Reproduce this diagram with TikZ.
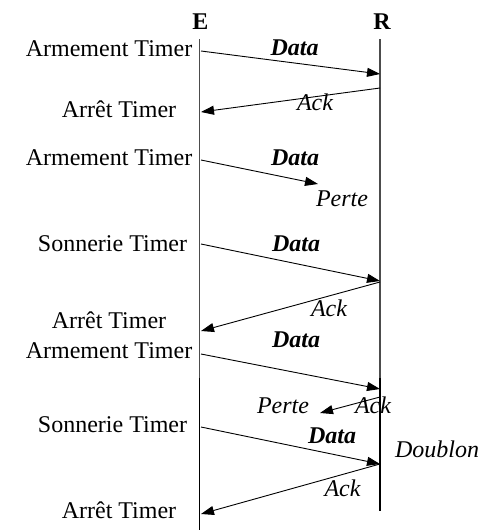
\documentclass[tikz,border=0pt]{standalone}
\usepackage{fontspec}
\setmainfont{Liberation Serif}
\usetikzlibrary{arrows.meta}
\begin{document}
\begin{tikzpicture}[x=1pt,y=-1pt,
  lbl/.style={anchor=base,inner sep=0pt,font=\fontsize{24}{26}\selectfont},
  msg/.style={lbl,font=\fontsize{24}{26}\selectfont\bfseries\itshape},
  note/.style={lbl,font=\fontsize{24}{26}\selectfont\itshape},
  head/.style={lbl,font=\fontsize{24}{26}\selectfont\bfseries},
  lifeup/.style={draw=black!70,line width=1.3pt},
  lifedown/.style={draw=black,line width=1.6pt},
  arr/.style={draw=black,line width=0.9pt,-{Triangle[length=13pt,width=9pt]}}]
\useasboundingbox (0,0) rectangle (482,530);
% headers
\node[head] (E) at (200.5,29) {E};
\node[head] (R) at (382,29) {R};
% lifelines
\coordinate (Et) at (199.5,39);
\coordinate (Em) at (199.5,378);
\coordinate (Eb) at (199.5,530);
\coordinate (Rt) at (380,39);
\coordinate (Rm) at (380,378);
\coordinate (Rb) at (380,511);
\draw[lifeup] (Et) -- (Em);
\draw[lifedown] (Em) -- (Eb);
\draw[lifeup] (Rt) -- (Rm);
\draw[lifedown] (Rm) -- (Rb);
% left labels
\node[lbl] (a1) at (109,56) {Armement Timer};
\node[lbl] (s1) at (119,117) {Arrêt Timer};
\node[lbl] (a2) at (109,165) {Armement Timer};
\node[lbl] (t1) at (112.5,251) {Sonnerie Timer};
\node[lbl] (s2) at (109,328) {Arrêt Timer};
\node[lbl] (a3) at (109,358) {Armement Timer};
\node[lbl] (t2) at (112.5,432) {Sonnerie Timer};
\node[lbl] (s3) at (119,518) {Arrêt Timer};
% message labels
\node[msg] (d1) at (294.5,55) {Data};
\node[note] (k1) at (315,110) {Ack};
\node[msg] (d2) at (295,165) {Data};
\node[note] (p1) at (342,206) {Perte};
\node[msg] (d3) at (296,251) {Data};
\node[note] (k2) at (329,316) {Ack};
\node[msg] (d4) at (296,347) {Data};
\node[note] (p2) at (283,413) {Perte};
\node[note] (k3) at (373,413) {Ack};
\node[msg] (d5) at (332,443) {Data};
\node[note] (db) at (437,457) {Doublon};
\node[note] (k4) at (342.5,496) {Ack};
% arrow end points
\coordinate (m1a) at (201,51);  \coordinate (m1b) at (380,74);
\coordinate (m2a) at (380,88);  \coordinate (m2b) at (201,112);
\coordinate (m3a) at (201,160); \coordinate (m3b) at (318,184);
\coordinate (m4a) at (201,244); \coordinate (m4b) at (380,281);
\coordinate (m5a) at (380,282); \coordinate (m5b) at (201,331);
\coordinate (m6a) at (201,354); \coordinate (m6b) at (380,389);
\coordinate (m7a) at (380,397); \coordinate (m7b) at (320,413);
\coordinate (m8a) at (201,427); \coordinate (m8b) at (380,464);
\coordinate (m9a) at (380,464); \coordinate (m9b) at (201,514);
\draw[arr] (m1a) -- (m1b);
\draw[arr] (m2a) -- (m2b);
\draw[arr] (m3a) -- (m3b);
\draw[arr] (m4a) -- (m4b);
\draw[arr] (m5a) -- (m5b);
\draw[arr] (m6a) -- (m6b);
\draw[arr] (m7a) -- (m7b);
\draw[arr] (m8a) -- (m8b);
\draw[arr] (m9a) -- (m9b);
\end{tikzpicture}
\end{document}
